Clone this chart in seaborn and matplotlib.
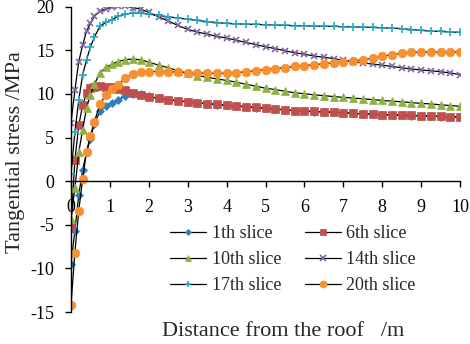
import numpy as np
import pandas as pd
import matplotlib
matplotlib.use("Agg")
import matplotlib.pyplot as plt
import seaborn as sns

# distance from the roof (m), mesh points
distance = [0, 0.1, 0.2, 0.3, 0.4, 0.5, 0.6, 0.75, 0.9, 1.05, 1.2, 1.4, 1.6, 1.8, 2.0,
            2.25, 2.5, 2.75, 3.0, 3.25, 3.5, 3.75, 4.0,
            4.25, 4.5, 4.75, 5.0, 5.25, 5.5, 5.75, 6.0, 6.25, 6.5, 6.75, 7.0,
            7.25, 7.5, 7.75, 8.0, 8.25, 8.5, 8.75, 9.0, 9.25, 9.5, 9.75, 10.0]

# tangential stress (MPa) per slice
slice_1 = [-9.5, -5.7, -1.6, 1.3, 3.3, 4.85, 6.6, 8.05, 8.65, 9.0, 9.27, 9.8, 10.05, 9.95, 9.72,
           9.48, 9.32, 9.2, 9.08, 8.98, 8.88, 8.78, 8.68,
           8.6, 8.52, 8.44, 8.35, 8.26, 8.16, 8.08, 8.02, 7.97, 7.93, 7.89, 7.83,
           7.76, 7.71, 7.67, 7.62, 7.59, 7.55, 7.52, 7.48, 7.44, 7.41, 7.38, 7.34]
slice_6 = [-5.1, 2.4, 6.4, 8.7, 10.1, 10.65, 10.85, 10.87, 10.83, 10.75, 10.57, 10.4, 10.15, 9.9, 9.7,
           9.5, 9.35, 9.22, 9.1, 9.0, 8.9, 8.8, 8.7,
           8.62, 8.55, 8.46, 8.38, 8.28, 8.18, 8.1, 8.04, 7.99, 7.95, 7.91, 7.85,
           7.78, 7.73, 7.69, 7.64, 7.61, 7.57, 7.54, 7.5, 7.46, 7.43, 7.4, 7.36]
slice_10 = [-4.3, -0.8, 3.3, 5.9, 8.4, 9.9, 11.1, 12.45, 13.05, 13.4, 13.7, 13.93, 14.0, 13.9, 13.65,
            13.3, 13.0, 12.65, 12.35, 12.1, 11.9, 11.72, 11.55,
            11.35, 11.1, 10.9, 10.65, 10.5, 10.3, 10.14, 10.02, 9.9, 9.8, 9.7, 9.6,
            9.52, 9.45, 9.35, 9.25, 9.17, 9.1, 9.0, 8.92, 8.85, 8.75, 8.67, 8.58]
slice_14 = [6.7, 10.4, 13.7, 15.6, 17.2, 18.1, 18.9, 19.5, 19.75, 19.95, 20.05, 20.05, 19.9, 19.7, 19.35,
            18.85, 18.35, 17.85, 17.4, 17.1, 16.85, 16.6, 16.4,
            16.15, 15.9, 15.65, 15.4, 15.2, 14.95, 14.72, 14.55, 14.35, 14.2, 14.05, 13.85,
            13.68, 13.55, 13.42, 13.3, 13.15, 13.0, 12.85, 12.75, 12.65, 12.55, 12.4, 12.22]
slice_17 = [0.8, 5.6, 9.3, 12.2, 13.9, 15.4, 16.5, 17.8, 18.2, 18.5, 18.9, 19.15, 19.3, 19.25, 19.15,
            19.0, 18.85, 18.7, 18.55, 18.42, 18.3, 18.18, 18.08,
            18.03, 18.0, 17.97, 17.94, 17.9, 17.87, 17.83, 17.8, 17.78, 17.76, 17.74, 17.71,
            17.68, 17.65, 17.62, 17.58, 17.54, 17.5, 17.38, 17.28, 17.2, 17.16, 17.1, 17.06]
slice_20 = [-14.2, -8.2, -3.4, 0.3, 3.4, 5.2, 6.8, 8.9, 9.9, 10.6, 11.0, 11.8, 12.3, 12.5, 12.55,
            12.57, 12.55, 12.5, 12.45, 12.4, 12.37, 12.36, 12.38,
            12.45, 12.55, 12.68, 12.8, 12.9, 13.03, 13.15, 13.25, 13.35, 13.47, 13.58, 13.7,
            13.8, 13.92, 14.1, 14.3, 14.5, 14.65, 14.77, 14.8, 14.8, 14.8, 14.8, 14.8]

labels = ["1th slice", "6th slice", "10th slice", "14th slice", "17th slice", "20th slice"]
colors = ["#2f7dc2", "#c0504d", "#8db244", "#8064a2", "#2aa9c4", "#f7902f"]
markers = ["D", "s", "^", "x", "+", "o"]
sizes = [3.8, 5.4, 5.6, 5.0, 6.2, 6.2]

sns.set_style("ticks")
plt.rcParams["font.family"] = ["Liberation Serif", "DejaVu Serif"]
plt.rcParams["axes.unicode_minus"] = False

fig = plt.figure(figsize=(4.7, 3.44), dpi=100)
ax = fig.add_axes([0.151, 0.093, 0.828, 0.8875])

series = [slice_1, slice_6, slice_10, slice_14, slice_17, slice_20]
for vals, lab, col, mk, ms in zip(series, labels, colors, markers, sizes):
    sns.lineplot(x=distance, y=vals, ax=ax, color="black", linewidth=0.9,
                 marker=mk, markersize=ms, markerfacecolor=col, markeredgecolor=col,
                 markeredgewidth=1.2 if mk in ("x", "+") else 0.5, label=lab)

ax.set_xlim(0, 10)
ax.set_ylim(-15, 20)
ax.set_xticks(range(0, 11))
ax.set_yticks(range(-15, 21, 5))
ax.spines["bottom"].set_position(("data", 0))
ax.spines["top"].set_visible(False)
ax.spines["right"].set_visible(False)
for s in ("left", "bottom"):
    ax.spines[s].set_linewidth(1.0)
    ax.spines[s].set_color("black")
ax.tick_params(axis="x", direction="out", length=4, width=1, pad=9, labelsize=13, colors="black")
ax.tick_params(axis="y", direction="out", length=4, width=1, pad=8, labelsize=13, colors="black")

ax.set_ylabel("Tangential stress /MPa", fontsize=16)
ax.yaxis.set_label_coords(-0.118, 0.525)
ax.set_xlabel("Distance from the roof   /m", fontsize=16)
ax.xaxis.set_label_coords(0.545, -0.033)
ax.xaxis.label.set_verticalalignment("top")

h, l = ax.get_legend_handles_labels()
order = [0, 2, 4, 1, 3, 5]
ax.legend([h[i] for i in order], [l[i] for i in order], ncol=2, frameon=False,
          loc="upper left", bbox_to_anchor=(0.2545, 0.285), borderaxespad=0, borderpad=0,
          fontsize=13, handlelength=2.0, handletextpad=0.3, columnspacing=1.3,
          labelspacing=0.5, markerscale=0.8)

fig.savefig("out.png", dpi=100)
